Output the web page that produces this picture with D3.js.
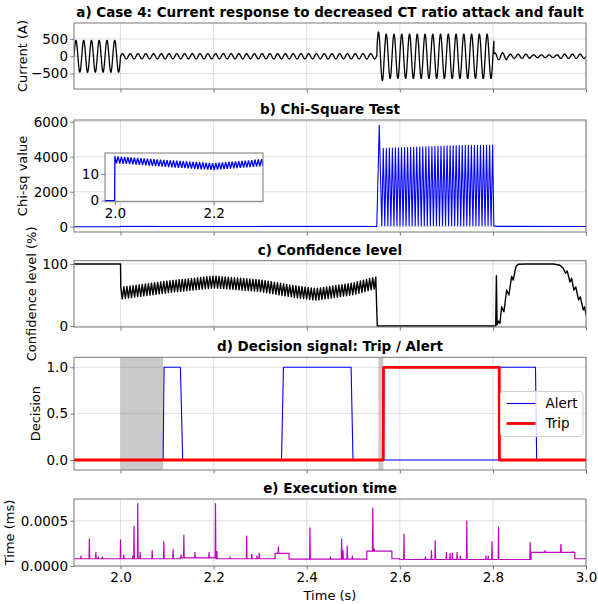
<!DOCTYPE html>
<html>
<head>
<meta charset="utf-8">
<script src="https://cdn.jsdelivr.net/npm/d3@7"></script>
<style>
    body { margin: 0; background: #fff; }
    svg text { font-family: "DejaVu Sans", sans-serif; fill: #000; }
    .grid line { stroke: #b0b0b0; stroke-opacity: 0.5; stroke-width: 0.8; }
    .frame { fill: none; stroke: #777; stroke-width: 1; }
    .tick line { stroke: #777; }
    .tick text { font-size: 13.5px; }
    .title { font-size: 13.5px; font-weight: bold; text-anchor: middle; }
    .label { font-size: 13px; text-anchor: middle; }
</style>
</head>
<body>
<div id="chart"></div>
<script>
// ---- data ----
var xTicks = [2.0, 2.2, 2.4, 2.6, 2.8, 3.0];
var gridFreq = 60;          // Hz, carrier of the current waveform
var zigPeriod = 0.0066;     // s, tooth spacing of chi-sq / confidence ripple

// a) current: [start, end, peak amplitude (A)]
var currentSegments = [
    [1.900, 2.000, 460],
    [2.000, 2.551, 75],
    [2.551, 2.566, 700],
    [2.566, 2.802, 640],
    [2.802, 2.830, 100],
    [2.830, 2.880, 60],
    [2.880, 2.940, 40],
    [2.940, 3.000, 62]
];

// b) chi-square
var chiRippleMean = [[2.0, 15.4], [2.1, 14.0], [2.2, 12.8], [2.3, 14.3], [2.4, 15.0], [2.55, 14.2]];
var chiRippleHalf = 1.3;
var chiFirstSpike = [2.5558, 5800];
var chiBurstStart = 2.5645, chiBurstEnd = 2.7994, chiBurstCount = 37;
var chiBurstPeaks = [[2.5645, 4480], [2.65, 4560], [2.72, 4640], [2.80, 4660]];
var chiBurstTrough = 50;
var chiAfter = [[2.802, 45], [2.81, 20], [3.0, 15]];

// c) confidence level
var confRippleMean = [[2.0, 53], [2.1, 63], [2.2, 71], [2.3, 65], [2.37, 56], [2.42, 51], [2.5, 60], [2.55, 70]];
var confRippleHalf = 9.5;
var confRecovery = [
    [2.806, 0], [2.8075, 81], [2.809, 2], [2.812, 8], [2.815, 4], [2.8188, 31], [2.8237, 23],
    [2.8295, 58], [2.8344, 50], [2.8402, 80], [2.8437, 74], [2.8495, 96], [2.8545, 99.5],
    [2.87, 100], [2.93, 100], [2.944, 98], [2.951, 93], [2.956, 85], [2.9597, 89],
    [2.9655, 71], [2.969, 77], [2.974, 58], [2.978, 63], [2.984, 42], [2.9877, 47],
    [2.994, 26], [2.997, 31], [3.0, 18]
];

// d) decision signals
var alertSignal = [
    [1.9, 0], [2.0915, 0], [2.0935, 1], [2.1286, 1], [2.1335, 0], [2.3458, 0], [2.35, 1],
    [2.4953, 1], [2.4994, 0], [2.812, 0], [2.8145, 1], [2.8915, 1], [2.894, 0], [3.0, 0]
];
var tripSignal = [[1.9, 0], [2.5645, 0], [2.5650, 1], [2.8135, 1], [2.8140, 0], [3.0, 0]];
var shadedSpans = [[2.0, 2.0915], [2.5539, 2.5647]];

// e) execution time (ms): baseline levels (step) and spikes
var execBase = [
    [1.9, 0.00008], [2.128, 0.00009], [2.205, 0.00008], [2.332, 0.00014], [2.362, 0.000075],
    [2.529, 0.000165], [2.583, 0.00008], [2.6, 0.000072], [2.882, 0.00015], [2.976, 0.00008]
];
var execSpikes = [
    [1.915, 0.00011], [1.933, 0.0003], [1.947, 0.00015], [1.952, 0.0001], [1.961, 0.0001],
    [2.0, 0.00029], [2.007, 0.00012], [2.026, 0.00011], [2.029, 0.00044], [2.037, 0.00069],
    [2.042, 0.00015], [2.068, 0.00017], [2.093, 0.00027], [2.113, 0.00018], [2.13, 0.00012],
    [2.136, 0.00034], [2.16, 0.00015], [2.19, 0.00015], [2.204, 0.00069], [2.207, 0.00016],
    [2.235, 0.0001], [2.271, 0.00033], [2.282, 0.00013], [2.293, 0.00011], [2.298, 0.00014],
    [2.339, 0.00021], [2.407, 0.00042], [2.451, 0.0001], [2.475, 0.0003], [2.478, 0.00017],
    [2.487, 0.00022], [2.498, 0.00011], [2.542, 0.00064], [2.545, 0.00019], [2.609, 0.00035],
    [2.655, 0.0001], [2.668, 0.00017], [2.676, 0.00028], [2.70, 0.00015], [2.708, 0.00014],
    [2.713, 0.00014], [2.723, 0.00015], [2.73, 0.00011], [2.744, 0.0005], [2.785, 0.00011],
    [2.79, 0.00011], [2.798, 0.00027], [2.812, 0.00043], [2.88, 0.00026], [2.897, 0.00015],
    [2.912, 0.00017], [2.946, 0.00024], [2.972, 0.00016]
];

(function () {
    "use strict";

    var W = 598, H = 604, L = 74, R = 586;

    var svg = d3.select('#chart').append('svg')
        .attr('width', W).attr('height', H);
    var defs = svg.append('defs');

    var x = d3.scaleLinear().domain([1.9, 3.0]).range([L, R]);
    var minusFmt = function (f) {
        return function (d) { var s = f(Math.abs(d)); return d < 0 ? '\u2212' + s : s; };
    };

    // value of a knot list at time t (knots are read values)
    function knotAt(knots, t) {
        if (t <= knots[0][0]) { return knots[0][1]; }
        for (var i = 1; i < knots.length; i++) {
            if (t <= knots[i][0]) {
                var a = knots[i - 1], b = knots[i];
                return a[1] + (b[1] - a[1]) * (t - a[0]) / (b[0] - a[0]);
            }
        }
        return knots[knots.length - 1][1];
    }

    // ripple between mean +/- half, one tooth every zigPeriod
    function ripple(t0, t1, mean, half) {
        var pts = [], k = 0;
        for (var t = t0; t <= t1 + 1e-9; t += zigPeriod / 2, k++) {
            pts.push([t, knotAt(mean, t) + (k % 2 ? -half : half)]);
        }
        return pts;
    }

    var panelIdx = 0;
    function addPanel(p) {
        var y = d3.scaleLinear().domain(p.yDomain).range([p.bottom, p.top]);
        var g = svg.append('g');
        var id = 'clip' + (panelIdx++);

        var grid = g.append('g').attr('class', 'grid');
        grid.selectAll('line.gx').data(xTicks).enter().append('line')
            .attr('class', 'gx')
            .attr('x1', function (d) { return x(d); }).attr('x2', function (d) { return x(d); })
            .attr('y1', p.top).attr('y2', p.bottom);
        grid.selectAll('line.gy').data(p.yTicks).enter().append('line')
            .attr('class', 'gy')
            .attr('x1', L).attr('x2', R)
            .attr('y1', function (d) { return y(d); }).attr('y2', function (d) { return y(d); });

        var ax = g.append('g')
            .attr('transform', 'translate(0,' + p.bottom + ')')
            .call(d3.axisBottom(x).tickValues(xTicks).tickSize(3.5).tickPadding(3)
                .tickFormat(p.xLabels ? d3.format('.1f') : ''));
        ax.select('.domain').remove();

        var ay = g.append('g')
            .attr('transform', 'translate(' + L + ',0)')
            .call(d3.axisLeft(y).tickValues(p.yTicks).tickSize(3.5).tickPadding(2.5)
                .tickFormat(p.yFmt));
        ay.select('.domain').remove();
        svg.selectAll('.tick text').attr('font-family', null);

        defs.append('clipPath').attr('id', id).append('rect')
            .attr('x', L).attr('y', p.top).attr('width', R - L).attr('height', p.bottom - p.top);
        var plot = g.append('g').attr('clip-path', 'url(#' + id + ')');

        g.append('text').attr('class', 'title')
            .attr('x', (L + R) / 2).attr('y', p.top - 6)
            .text(p.title);

        g.append('text').attr('class', 'label')
            .attr('transform', 'translate(' + p.labelX + ',' + ((p.top + p.bottom) / 2) + ') rotate(-90)')
            .attr('dy', '0.35em')
            .text(p.ylabel);

        return {
            y: y, g: g, plot: plot,
            frame: function () {
                g.append('rect').attr('class', 'frame')
                    .attr('x', L).attr('y', p.top).attr('width', R - L).attr('height', p.bottom - p.top);
            }
        };
    }

    function drawLine(target, data, y, color, width) {
        var line = d3.line()
            .x(function (d) { return x(d[0]); })
            .y(function (d) { return y(d[1]); });
        return target.append('path').datum(data)
            .attr('fill', 'none').attr('stroke', color).attr('stroke-width', width)
            .attr('stroke-linejoin', 'round').attr('d', line);
    }

    // a) Current
    var currentData = [];
    currentSegments.forEach(function (s) {
        for (var t = s[0]; t < s[1]; t += 0.0004) {
            currentData.push([t, s[2] * Math.sin(2 * Math.PI * gridFreq * (t - 1.9))]);
        }
    });
    var pa = addPanel({
        top: 23, bottom: 89, yDomain: [-945, 960], yTicks: [-500, 0, 500],
        yFmt: minusFmt(d3.format('d')),
        title: 'a) Case 4: Current response to decreased CT ratio attack and fault',
        ylabel: 'Current (A)', labelX: 22
    });
    drawLine(pa.plot, currentData, pa.y, '#000', 1.3);
    pa.frame();

    // b) Chi-square
    var chiData = [[1.9, 0], [1.9995, 0]]
        .concat(ripple(2.0, 2.5495, chiRippleMean, chiRippleHalf))
        .concat([[2.5505, 14], [chiFirstSpike[0], chiFirstSpike[1]]]);
    var burstStep = (chiBurstEnd - chiBurstStart) / (chiBurstCount - 1);
    for (var i = 0; i < chiBurstCount; i++) {
        var ti = chiBurstStart + i * burstStep;
        chiData.push([ti - burstStep / 2, chiBurstTrough]);
        chiData.push([ti, knotAt(chiBurstPeaks, ti)]);
    }
    chiData = chiData.concat(chiAfter);

    var pb = addPanel({
        top: 120, bottom: 232, yDomain: [-303, 6097], yTicks: [0, 2000, 4000, 6000],
        yFmt: d3.format('d'), title: 'b) Chi-Square Test',
        ylabel: 'Chi-sq value', labelX: 22
    });
    drawLine(pb.plot, chiData, pb.y, '#0000ff', 1.1);
    pb.frame();

    // inset zoom on the attack start
    var ix = d3.scaleLinear().domain([1.98, 2.3]).range([105, 263]);
    var iy = d3.scaleLinear().domain([-0.4, 17.9]).range([201.7, 153]);
    var inset = svg.append('g');
    inset.append('rect').attr('x', 105).attr('y', 153).attr('width', 158).attr('height', 48.7)
        .attr('fill', '#fff');
    var igrid = inset.append('g').attr('class', 'grid');
    [2.0, 2.2].forEach(function (d) {
        igrid.append('line').attr('x1', ix(d)).attr('x2', ix(d)).attr('y1', 153).attr('y2', 201.7);
    });
    [0, 10].forEach(function (d) {
        igrid.append('line').attr('x1', 105).attr('x2', 263).attr('y1', iy(d)).attr('y2', iy(d));
    });
    var iax = inset.append('g').attr('transform', 'translate(0,201.7)')
        .call(d3.axisBottom(ix).tickValues([2.0, 2.2]).tickSize(3.5).tickPadding(3).tickFormat(d3.format('.1f')));
    iax.select('.domain').remove();
    var iay = inset.append('g').attr('transform', 'translate(105,0)')
        .call(d3.axisLeft(iy).tickValues([0, 10]).tickSize(3.5).tickPadding(2.5).tickFormat(d3.format('d')));
    iay.select('.domain').remove();
    inset.selectAll('.tick text').attr('font-family', null);
    defs.append('clipPath').attr('id', 'clipInset').append('rect')
        .attr('x', 105).attr('y', 153).attr('width', 158).attr('height', 48.7);
    var iplot = inset.append('g').attr('clip-path', 'url(#clipInset)');
    iplot.append('path').datum(chiData.filter(function (d) { return d[0] < 2.32; }))
        .attr('fill', 'none').attr('stroke', '#0000ff').attr('stroke-width', 1.3)
        .attr('d', d3.line().x(function (d) { return ix(d[0]); }).y(function (d) { return iy(d[1]); }));
    inset.append('rect').attr('class', 'frame')
        .attr('x', 105).attr('y', 153).attr('width', 158).attr('height', 48.7);

    // c) Confidence level
    var confData = [[1.9, 100], [2.0, 100]]
        .concat(ripple(2.0005, 2.5505, confRippleMean, confRippleHalf))
        .concat([[2.5516, 0]])
        .concat(confRecovery);
    var pc = addPanel({
        top: 260.7, bottom: 327, yDomain: [-1.6, 105.3], yTicks: [0, 100],
        yFmt: d3.format('d'), title: 'c) Confidence level',
        ylabel: 'Confidence level (%)', labelX: 31
    });
    drawLine(pc.plot, confData, pc.y, '#000', 1.4);
    pc.frame();

    // d) Decision
    var pd = addPanel({
        top: 357.3, bottom: 470, yDomain: [-0.108, 1.108], yTicks: [0, 0.5, 1],
        yFmt: d3.format('.1f'), title: 'd) Decision signal: Trip / Alert',
        ylabel: 'Decision', labelX: 35
    });
    pd.plot.insert('g', ':first-child').selectAll('rect').data(shadedSpans).enter().append('rect')
        .attr('x', function (d) { return x(d[0]); })
        .attr('width', function (d) { return x(d[1]) - x(d[0]); })
        .attr('y', 357.3).attr('height', 470 - 357.3)
        .attr('fill', '#808080').attr('fill-opacity', 0.42);
    drawLine(pd.plot, alertSignal, pd.y, '#0000ff', 1.1);
    drawLine(pd.plot, tripSignal, pd.y, '#ff0000', 2.8);
    pd.frame();

    // legend
    var lg = pd.g.append('g').attr('transform', 'translate(500.5,391.5)');
    lg.append('rect').attr('width', 82.5).attr('height', 45).attr('rx', 3)
        .attr('fill', '#fff').attr('fill-opacity', 0.8).attr('stroke', '#d0d0d0');
    var legendItems = [['Alert', '#0000ff', 1.1], ['Trip', '#ff0000', 2.8]];
    legendItems.forEach(function (it, k) {
        var ly = 12 + k * 20;
        lg.append('line').attr('x1', 6).attr('x2', 35).attr('y1', ly).attr('y2', ly)
            .attr('stroke', it[1]).attr('stroke-width', it[2]);
        lg.append('text').attr('x', 45).attr('y', ly).attr('dy', '0.35em')
            .attr('font-size', 13.5).text(it[0]);
    });

    // e) Execution time
    var execData = [];
    execBase.forEach(function (b, k) {
        if (k > 0) { execData.push([b[0], execBase[k - 1][1]]); }
        execData.push([b[0], b[1]]);
    });
    execData.push([3.0, execBase[execBase.length - 1][1]]);
    function baseAt(t) {
        var v = execBase[0][1];
        execBase.forEach(function (b) { if (t >= b[0]) { v = b[1]; } });
        return v;
    }
    execSpikes.forEach(function (s) {
        var bv = baseAt(s[0]);
        execData.push([s[0] - 0.0007, bv], [s[0], s[1]], [s[0] + 0.0007, bv]);
    });
    execData.sort(function (a, b) { return a[0] - b[0]; });

    var pe = addPanel({
        top: 499, bottom: 566, yDomain: [0, 0.00074], yTicks: [0, 0.0005],
        yFmt: d3.format('.4f'), title: 'e) Execution time',
        ylabel: 'Time (ms)', labelX: 9, xLabels: true
    });
    drawLine(pe.plot, execData, pe.y, '#bf00bf', 1.2);
    pe.frame();

    svg.append('text').attr('class', 'label')
        .attr('x', (L + R) / 2).attr('y', 600)
        .text('Time (s)');
}());
</script>
</body>
</html>
